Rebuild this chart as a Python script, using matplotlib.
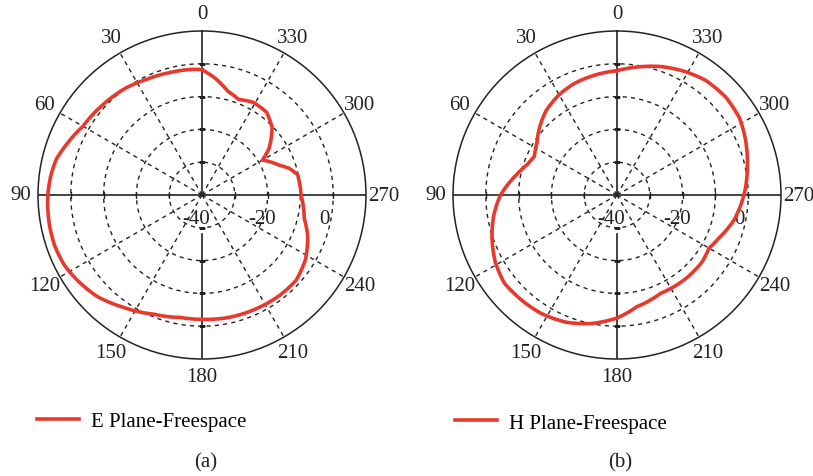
import numpy as np
import matplotlib
matplotlib.use("Agg")
import matplotlib.pyplot as plt

plt.rcParams['font.family'] = ['Liberation Serif', 'DejaVu Serif']

# Radiation patterns (dB) versus angle (degrees)
e_angles = [0, 4, 15, 26, 35, 48, 60, 70, 76, 82, 90, 101, 109, 117, 124, 134, 145,
            158, 170, 180, 192, 205, 218, 228, 238, 249, 257, 270, 276, 282, 287,
            291, 300, 305, 314, 322, 331, 339, 346, 354, 360]
e_gain = [-1.8, -1.6, -1.4, -0.9, 0.0, 0.9, 1.9, 4.2, 5.7, 6.4, 7.0, 7.4, 7.5, 7.1,
          6.1, 4.5, 1.8, -0.8, -2.1, -2.1, -1.8, -1.6, -1.3, -1.3, -2.8, -5.5, -8.0,
          -9.8, -10.0, -10.2, -12.2, -14.7, -18.7, -15.0, -10.3, -8.0, -7.7, -8.8,
          -7.4, -4.0, -1.8]

h_angles = [0, 10, 21, 30, 40, 49, 57, 65, 71, 79, 86, 90, 99, 109, 119, 128, 137,
            147, 158, 168, 180, 190, 204, 219, 232, 240, 247, 258, 265, 273, 283,
            293, 302, 312, 322, 331, 341, 351, 360]
h_gain = [-2.1, -2.8, -3.6, -4.7, -6.4, -8.7, -10.9, -12.2, -11.2, -8.6, -6.0, -4.5,
          -2.0, 0.3, 2.4, 3.6, 3.3, 2.9, 1.8, 0.1, -2.5, -5.4, -7.2, -7.0, -7.0, -7.6,
          -6.3, -3.5, -2.2, -0.8, 0.8, 2.6, 4.1, 4.6, 4.2, 3.0, 1.4, -0.5, -2.1]

angle_ticks = list(range(0, 360, 30))
ring_values = [-30, -20, -10, 0]
r_labels = [-40, -20, 0]
r_min, r_max = -40, 10

panels = [
    dict(angles=e_angles, gain=e_gain, name="E Plane-Freespace", tag="(a)",
         cx=202, legend_x=37, legend_y=422),
    dict(angles=h_angles, gain=h_gain, name="H Plane-Freespace", tag="(b)",
         cx=617, legend_x=455, legend_y=424),
]

W, H = 813, 477
fig = plt.figure(figsize=(W / 100, H / 100), dpi=100)
R = 164
cy = 196
curve_color = '#e8392c'
ink = '#222222'
fs = 15

for p in panels:
    ax = fig.add_axes([(p['cx'] - R) / W, (H - cy - R) / H, 2 * R / W, 2 * R / H],
                      projection='polar')
    ax.set_theta_zero_location('N')
    ax.set_theta_direction(1)
    ax.set_ylim(r_min, r_max)
    ax.set_xticks([])
    ax.set_yticks([])
    ax.grid(False)
    ax.spines['polar'].set_color(ink)
    ax.spines['polar'].set_linewidth(1.1)

    # dashed range rings
    th = np.linspace(0, 2 * np.pi, 361)
    for rv in ring_values:
        ax.plot(th, np.full_like(th, rv), ls=(0, (3, 3)), color=ink, lw=1.0, zorder=1)
    # dashed spokes
    for a in angle_ticks:
        if a % 90:
            ax.plot([np.deg2rad(a)] * 2, [r_min, r_max], ls=(0, (3, 3)),
                    color=ink, lw=1.0, zorder=1)
    # solid axes
    for a in (0, 90, 270):
        ax.plot([np.deg2rad(a)] * 2, [r_min, r_max], color=ink, lw=1.2, zorder=2)
    ax.plot([np.pi] * 2, [-28, r_max], color=ink, lw=1.2, zorder=2)
    # small ticks on the axes
    for rv in ring_values:
        ax.plot([0, np.pi], [rv, rv], ls='none', marker='_', ms=4, mew=1.0,
                color=ink, zorder=2)
        ax.plot([np.pi / 2, 3 * np.pi / 2], [rv, rv], ls='none', marker='|', ms=4,
                mew=1.0, color=ink, zorder=2)

    # angle labels
    for a in angle_ticks:
        ax.text(np.deg2rad(a), 15.4, str(a), ha='center', va='center',
                fontsize=fs, color=ink, clip_on=False)
    # radial labels
    for rv in r_labels:
        ax.annotate(str(rv), xy=(3 * np.pi / 2, rv), xytext=(-4 if rv else -6, -17),
                    textcoords='offset points', ha='center', va='center',
                    fontsize=fs, color=ink, annotation_clip=False)

    line, = ax.plot(np.deg2rad(p['angles']), p['gain'], color=curve_color, lw=2.6,
                    zorder=3, solid_joinstyle='round')
    # let the polar transform follow the curve between samples
    line.get_path()._interpolation_steps = 12

    fig.legend([line], [p['name']], loc='center left',
               bbox_to_anchor=(p['legend_x'] / W, 1 - p['legend_y'] / H),
               frameon=False, fontsize=fs, handlelength=2.0, handletextpad=0.6,
               borderpad=0, borderaxespad=0)
    fig.text(p['cx'] / W + 0.004, 1 - 463 / H, p['tag'], ha='center', va='center',
             fontsize=fs, color=ink)

fig.savefig('out.png', dpi=100)
